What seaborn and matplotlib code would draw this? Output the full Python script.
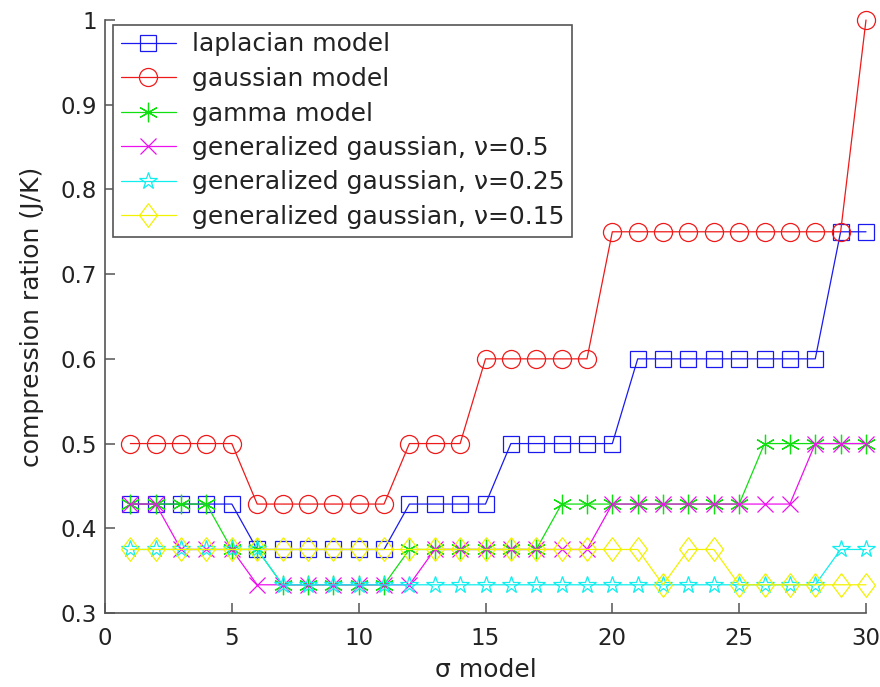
import numpy as np
import pandas as pd
import matplotlib
matplotlib.use("Agg")
import matplotlib.pyplot as plt
import seaborn as sns

# ---- data ----
sigma = list(range(1, 31))

laplacian = [0.4286]*5 + [0.375]*6 + [0.4286]*4 + [0.5]*5 + [0.6]*8 + [0.75]*2
gaussian = [0.5]*5 + [0.4286]*6 + [0.5]*3 + [0.6]*5 + [0.75]*10 + [1.0]
gamma = [0.4286]*4 + [0.375]*2 + [0.3333]*5 + [0.375]*6 + [0.4286]*8 + [0.5]*5
gg_05 = [0.4286]*2 + [0.375]*3 + [0.3333]*7 + [0.375]*7 + [0.4286]*8 + [0.5]*3
gg_025 = [0.375]*6 + [0.3333]*22 + [0.375]*2
gg_015 = [0.375]*21 + [0.3333] + [0.375]*2 + [0.3333]*6

labels = ["laplacian model", "gaussian model", "gamma model",
          "generalized gaussian, \u03bd=0.5",
          "generalized gaussian, \u03bd=0.25",
          "generalized gaussian, \u03bd=0.15"]
x_ticks = [0, 5, 10, 15, 20, 25, 30]
y_ticks = [0.3, 0.4, 0.5, 0.6, 0.7, 0.8, 0.9, 1.0]
y_ticklabels = ["0.3", "0.4", "0.5", "0.6", "0.7", "0.8", "0.9", "1"]

series = [laplacian, gaussian, gamma, gg_05, gg_025, gg_015]

# ---- styles ----
colors = ["#1a1aee", "#ee1a1a", "#10e010", "#ee10ee", "#10eeee", "#f2f200"]
asterisk = (6, 2, 0)
diamond = [(0, 1), (0.75, 0), (0, -1), (-0.75, 0), (0, 1)]
markers = ["s", "o", asterisk, "x", "*", diamond]
msizes = [11, 13, 14, 11, 13, 17]

sns.set_theme(style="ticks")
plt.rcParams["font.family"] = ["DejaVu Sans"]

fig = plt.figure(figsize=(8.8, 6.87), dpi=100)
ax = fig.add_axes([105/880, 1 - 613/687, 761/880, 593/687])

for vals, lab, col, mk, ms in zip(series, labels, colors, markers, msizes):
    df = pd.DataFrame({"sigma": sigma, "ratio": vals})
    sns.lineplot(data=df, x="sigma", y="ratio", ax=ax, color=col, label=lab,
                 marker=mk, markersize=ms, markerfacecolor="none",
                 markeredgecolor=col, markeredgewidth=0.9, linewidth=0.9,
                 clip_on=False)

ax.set_xlim(0, 30)
ax.set_ylim(0.3, 1.0)
ax.set_xticks(x_ticks)
ax.set_yticks(y_ticks)
ax.set_yticklabels(y_ticklabels)
ax.tick_params(axis="both", direction="in", length=7, width=1.1, color="#555555",
               labelsize=16.5, labelcolor="#222222", bottom=True, left=True,
               top=False, right=False)
ax.tick_params(axis="x", pad=10)
ax.tick_params(axis="y", pad=6)
for s in ["top", "right"]:
    ax.spines[s].set_visible(False)
for s in ["left", "bottom"]:
    ax.spines[s].set_color("#555555")
    ax.spines[s].set_linewidth(1.2)
ax.set_xlabel("\u03c3 model", fontsize=18, color="#222222", labelpad=6)
ax.set_ylabel("compression ration (J/K)", fontsize=18, color="#222222", labelpad=12)

leg = ax.legend(loc="upper left", bbox_to_anchor=(8/761, 1 - 5/593),
                borderaxespad=0, fontsize=18, frameon=True, fancybox=False,
                framealpha=1, edgecolor="#555555", numpoints=1,
                handlelength=2.2, handletextpad=0.65, labelspacing=0.42,
                borderpad=0.3)
leg.get_frame().set_linewidth(1.2)
for t in leg.get_texts():
    t.set_color("#222222")

fig.savefig("out.png", dpi=100, facecolor="white")
